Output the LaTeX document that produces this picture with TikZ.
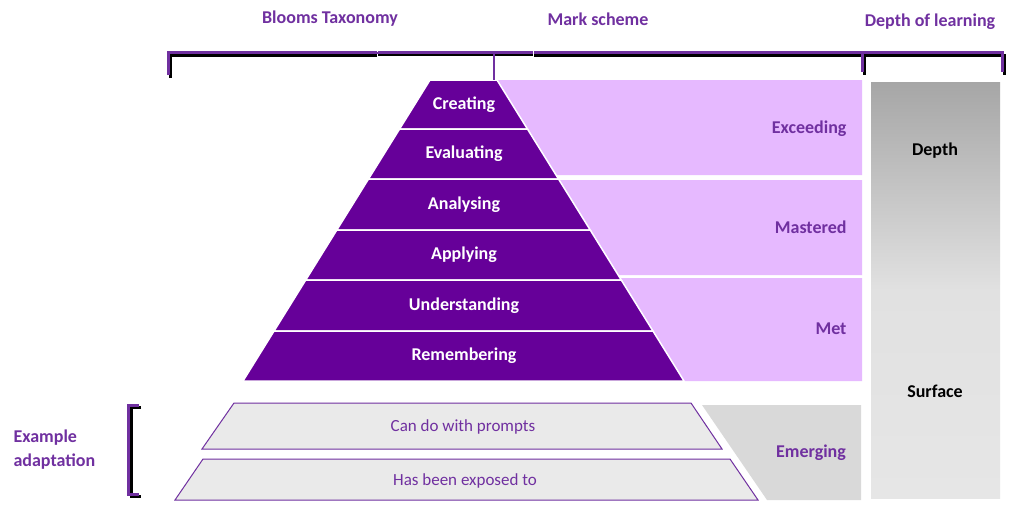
\documentclass[tikz,border=0pt]{standalone}
\usepackage{fontspec}
\setmainfont{Carlito}
\definecolor{pyr}{RGB}{102,0,153}
\definecolor{txp}{RGB}{112,48,160}
\definecolor{lit}{RGB}{230,185,255}
\definecolor{gfill}{RGB}{234,234,234}
\definecolor{emg}{RGB}{217,217,217}
\begin{document}
\begin{tikzpicture}[x=1pt,y=-1pt,
  purp/.style={fill=pyr,draw=white,line width=1.5pt},
  lite/.style={fill=lit,draw=none},
  grey/.style={fill=gfill,draw=txp,line width=1pt},
  wl/.style={text=white,font=\bfseries\fontsize{18}{18}\selectfont},
  pl/.style={text=txp,font=\bfseries\fontsize{18}{18}\selectfont},
  gl/.style={text=txp,font=\fontsize{17}{17}\selectfont},
  hl/.style={text=txp,font=\bfseries\fontsize{18}{18}\selectfont},
  br/.style={draw=txp,line width=3pt},
  brs/.style={draw=black,line width=3pt}]
\useasboundingbox[fill=white] (0,0) rectangle (1024,511);
% light purple mark scheme boxes
\fill[lite] ({497},80) -- (862,80) -- (862,175) -- ({497+0.6213*95},175) -- cycle;
\fill[lite] ({497+0.6213*100},180) -- (862,180) -- (862,275) -- ({497+0.6213*195},275) -- cycle;
\fill[lite] ({497+0.6213*198},278) -- (862,278) -- (862,381) -- ({497+0.6213*301},381) -- cycle;
\node[pl,anchor=east] (ex) at (850,129) {Exceeding};
\node[pl,anchor=east] (ma) at (850,227) {Mastered};
\node[pl,anchor=east] (me) at (850,329) {Met};
% pyramid
\foreach \a/\b/\t [count=\i] in {80/129/Creating,129/179/Evaluating,179/230/Analysing,230/280/Applying,280/331/Understanding,331/381/Remembering}{
  \draw[purp] ({430-0.6213*(\a-80)},\a) -- ({497+0.6213*(\a-80)},\a) -- ({497+0.6213*(\b-80)},\b) -- ({430-0.6213*(\b-80)},\b) -- cycle;
  \node[wl] (p\i) at (464,{(\a+\b)/2}) {\t};
}
% grey bottom
\fill[emg] (702,405) -- (861,405) -- (861,500) -- (767,500) -- cycle;
\node[pl] (em) at (811,453) {Emerging};
\draw[grey] (234,403) -- (691,403) -- (722,449) -- (202,449) -- cycle;
\draw[grey] (203,459) -- (730,459) -- (758,500) -- (175,500) -- cycle;
\node[gl] (g1) at (463,427) {Can do with prompts};
\node[gl] (g2) at (465,481) {Has been exposed to};
% depth column
\shade[top color={rgb,255:red,166;green,166;blue,166},bottom color={rgb,255:red,230;green,230;blue,230},middle color={rgb,255:red,225;green,225;blue,225}] (871,82) rectangle (1000,498);
\node[font=\bfseries\fontsize{18}{18}\selectfont] (d1) at (935,151) {Depth};
\node[font=\bfseries\fontsize{18}{18}\selectfont] (d2) at (935,391) {Surface};
% top bracket
\begin{scope}[shift={(2,3)}]
\draw[brs] (168,75) -- (168,53) -- (1002,53) -- (1002,72);
\draw[brs] (862,53) -- (862,72);
\end{scope}
\draw[br] (168,75) -- (168,53) -- (1002,53) -- (1002,72);
\draw[br] (862,53) -- (862,72);
\fill[white] (377,2) rectangle (533,51);
\fill[white] (377,56) rectangle (533,78);
\draw[white,line width=0.6pt] (377,2) rectangle (533,78);
\draw[txp,line width=2.5pt] (377,53) -- (533,53);
\draw[txp,line width=2pt] (494,53) -- (494,80);
\node[hl] (h1) at (330,19) {Blooms Taxonomy};
\node[hl] (h2) at (598,19) {Mark scheme};
\node[hl] (h3) at (930,22) {Depth of learning};
% left bracket
\draw[brs] (141,407) -- (131,407) -- (131,496) -- (141,496);
\draw[br] (139,405) -- (128,405) -- (128,494) -- (139,494);
\node[hl,align=left,anchor=west,font=\bfseries\fontsize{18}{24}\selectfont] (ea) at (10,450) {Example\\adaptation};
\end{tikzpicture}
\end{document}
